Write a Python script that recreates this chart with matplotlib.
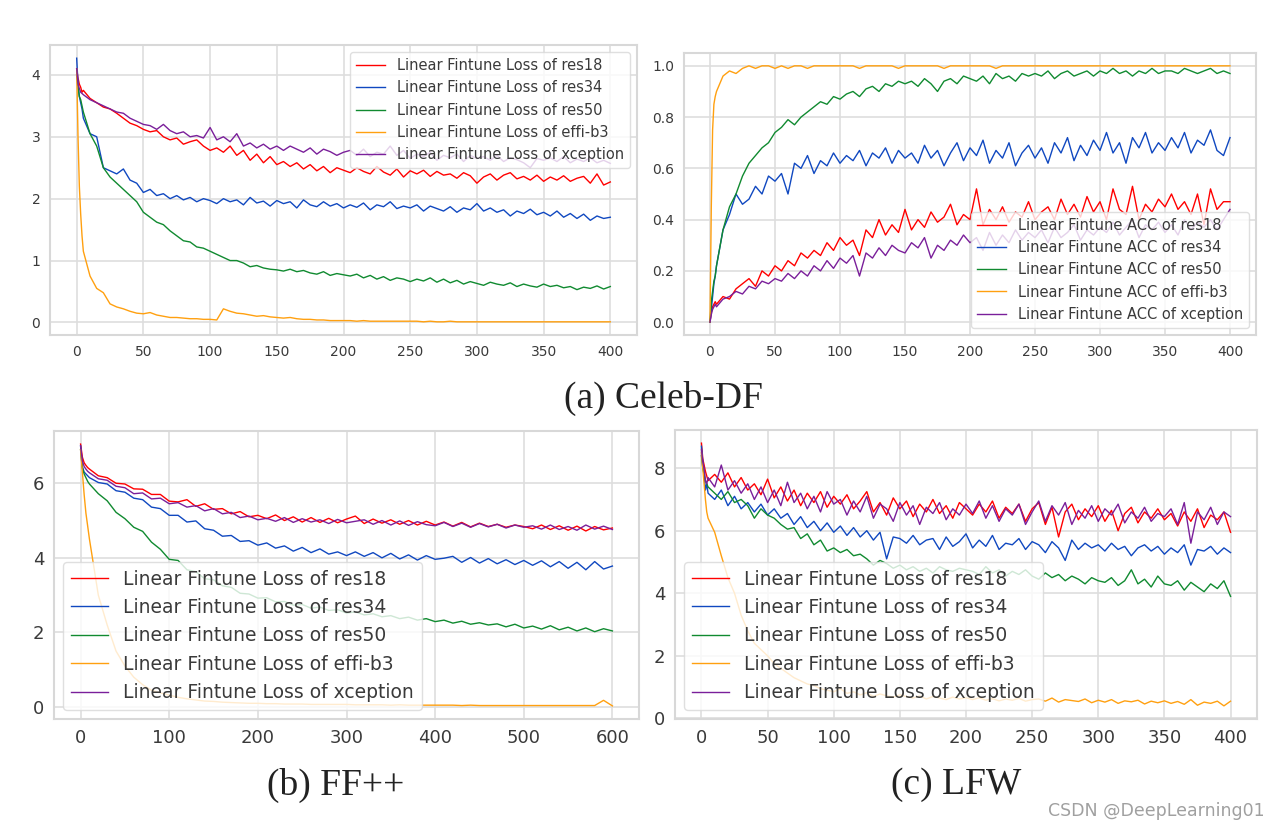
import matplotlib
matplotlib.use("Agg")
import matplotlib.pyplot as plt

# epochs (fine steps at the very start, then every 5 / every 10)
ep400 = [0, 1, 2, 3, 4] + list(range(5, 401, 5))
ep600 = [0, 2, 4, 6, 8] + list(range(10, 601, 10))

names = ["res18", "res34", "res50", "effi-b3", "xception"]
colors = ["#ff0000", "#1048c0", "#108a30", "#ffa010", "#7a1f9a"]

# ---- (a) Celeb-DF loss ----
celeb_loss_res18 = [4.10, 3.95, 3.85, 3.80, 3.72,
    3.75, 3.62, 3.55, 3.48, 3.45, 3.38, 3.30, 3.22, 3.18, 3.12,
    3.08, 3.10, 3.00, 2.95, 2.98, 2.88, 2.92, 2.95, 2.85, 2.78,
    2.82, 2.75, 2.85, 2.70, 2.78, 2.62, 2.72, 2.58, 2.68, 2.55,
    2.60, 2.52, 2.58, 2.48, 2.55, 2.45, 2.52, 2.42, 2.50, 2.46,
    2.42, 2.50, 2.44, 2.40, 2.52, 2.43, 2.38, 2.48, 2.35, 2.45,
    2.40, 2.46, 2.36, 2.44, 2.38, 2.40, 2.33, 2.42, 2.37, 2.25,
    2.35, 2.40, 2.30, 2.38, 2.42, 2.32, 2.36, 2.30, 2.38, 2.28,
    2.35, 2.30, 2.37, 2.28, 2.33, 2.36, 2.25, 2.40, 2.22, 2.27]
celeb_loss_res34 = [4.27, 3.85, 3.65, 3.55, 3.45,
    3.30, 3.05, 3.00, 2.50, 2.45, 2.40, 2.48, 2.30, 2.25, 2.10,
    2.15, 2.05, 2.08, 2.00, 2.05, 1.98, 2.02, 1.95, 2.00, 1.97,
    1.92, 2.00, 1.95, 1.98, 1.90, 2.02, 1.93, 1.96, 1.88, 1.97,
    1.92, 1.95, 1.85, 1.98, 1.90, 1.87, 1.95, 1.88, 1.92, 1.85,
    1.90, 1.86, 1.93, 1.82, 1.90, 1.87, 1.95, 1.84, 1.88, 1.85,
    1.90, 1.80, 1.88, 1.84, 1.80, 1.87, 1.78, 1.85, 1.82, 1.92,
    1.80, 1.85, 1.78, 1.82, 1.72, 1.80, 1.76, 1.83, 1.74, 1.78,
    1.72, 1.80, 1.70, 1.76, 1.68, 1.75, 1.65, 1.72, 1.68, 1.70]
celeb_loss_res50 = [4.00, 3.80, 3.65, 3.60, 3.50,
    3.40, 3.05, 2.85, 2.50, 2.35, 2.25, 2.15, 2.05, 1.95, 1.78,
    1.70, 1.62, 1.58, 1.48, 1.40, 1.32, 1.30, 1.22, 1.20, 1.15,
    1.10, 1.05, 1.00, 1.00, 0.96, 0.90, 0.92, 0.88, 0.86, 0.85,
    0.83, 0.86, 0.82, 0.84, 0.80, 0.78, 0.82, 0.76, 0.79, 0.77,
    0.75, 0.78, 0.72, 0.76, 0.70, 0.74, 0.68, 0.72, 0.70, 0.66,
    0.70, 0.67, 0.72, 0.65, 0.70, 0.64, 0.68, 0.62, 0.66, 0.63,
    0.60, 0.65, 0.62, 0.60, 0.64, 0.58, 0.62, 0.59, 0.57, 0.62,
    0.58, 0.60, 0.56, 0.58, 0.53, 0.57, 0.55, 0.59, 0.54, 0.58]
celeb_loss_effi = [4.10, 3.00, 2.20, 1.75, 1.40,
    1.15, 0.75, 0.55, 0.48, 0.30, 0.25, 0.22, 0.18, 0.15, 0.14,
    0.16, 0.12, 0.10, 0.08, 0.08, 0.07, 0.06, 0.06, 0.05, 0.05,
    0.04, 0.22, 0.18, 0.15, 0.14, 0.12, 0.10, 0.11, 0.09, 0.08,
    0.07, 0.08, 0.06, 0.05, 0.05, 0.04, 0.04, 0.03, 0.03, 0.03,
    0.03, 0.02, 0.03, 0.02, 0.02, 0.02, 0.02, 0.02, 0.02, 0.02,
    0.02, 0.01, 0.02, 0.01, 0.01, 0.02, 0.01, 0.01, 0.01, 0.01,
    0.01, 0.01, 0.01, 0.01, 0.01, 0.01, 0.01, 0.01, 0.01, 0.01,
    0.01, 0.01, 0.01, 0.01, 0.01, 0.01, 0.01, 0.01, 0.01, 0.01]
celeb_loss_xcep = [4.10, 3.85, 3.78, 3.72, 3.70,
    3.68, 3.60, 3.55, 3.50, 3.45, 3.40, 3.38, 3.30, 3.25, 3.20,
    3.18, 3.12, 3.20, 3.10, 3.05, 3.08, 3.00, 3.02, 2.98, 3.15,
    2.95, 3.00, 2.92, 3.05, 2.85, 2.90, 2.82, 2.88, 2.80, 2.85,
    2.78, 2.85, 2.80, 2.75, 2.82, 2.72, 2.80, 2.76, 2.70, 2.75,
    2.78, 2.70, 2.80, 2.68, 2.75, 2.72, 2.85, 2.70, 2.78, 2.65,
    2.72, 2.68, 2.75, 2.62, 2.70, 2.66, 2.72, 2.60, 2.70, 2.65,
    2.68, 2.62, 2.70, 2.60, 2.66, 2.63, 2.58, 2.50, 2.65, 2.62,
    2.66, 2.60, 2.68, 2.58, 2.64, 2.60, 2.66, 2.58, 2.62, 2.57]

# ---- (a) Celeb-DF accuracy ----
celeb_acc_res18 = [0.00, 0.04, 0.06, 0.07, 0.08,
    0.07, 0.10, 0.09, 0.13, 0.15, 0.17, 0.14, 0.20, 0.18, 0.22,
    0.20, 0.24, 0.22, 0.27, 0.25, 0.28, 0.26, 0.31, 0.28, 0.33,
    0.30, 0.32, 0.26, 0.36, 0.33, 0.40, 0.34, 0.38, 0.35, 0.44,
    0.36, 0.40, 0.37, 0.43, 0.39, 0.41, 0.46, 0.38, 0.42, 0.40,
    0.52, 0.38, 0.44, 0.40, 0.45, 0.39, 0.43, 0.41, 0.47, 0.40,
    0.43, 0.45, 0.40, 0.48, 0.42, 0.46, 0.41, 0.49, 0.43, 0.47,
    0.40, 0.52, 0.44, 0.42, 0.53, 0.40, 0.46, 0.43, 0.48, 0.45,
    0.50, 0.44, 0.47, 0.42, 0.50, 0.38, 0.52, 0.44, 0.47, 0.47]
celeb_acc_res34 = [0.00, 0.05, 0.10, 0.15, 0.18,
    0.22, 0.36, 0.42, 0.50, 0.46, 0.48, 0.53, 0.50, 0.57, 0.55,
    0.58, 0.50, 0.62, 0.60, 0.65, 0.58, 0.63, 0.61, 0.66, 0.62,
    0.65, 0.63, 0.67, 0.61, 0.66, 0.64, 0.68, 0.62, 0.67, 0.64,
    0.66, 0.62, 0.69, 0.64, 0.67, 0.61, 0.66, 0.70, 0.63, 0.68,
    0.65, 0.71, 0.62, 0.67, 0.64, 0.70, 0.61, 0.66, 0.69, 0.64,
    0.68, 0.62, 0.70, 0.66, 0.72, 0.63, 0.69, 0.65, 0.71, 0.67,
    0.74, 0.66, 0.70, 0.62, 0.72, 0.68, 0.74, 0.66, 0.70, 0.67,
    0.72, 0.68, 0.74, 0.66, 0.71, 0.69, 0.75, 0.67, 0.65, 0.72]
celeb_acc_res50 = [0.00, 0.08, 0.12, 0.16, 0.18,
    0.22, 0.36, 0.45, 0.50, 0.57, 0.62, 0.65, 0.68, 0.70, 0.74,
    0.76, 0.79, 0.77, 0.80, 0.82, 0.84, 0.86, 0.85, 0.88, 0.87,
    0.89, 0.90, 0.88, 0.91, 0.92, 0.90, 0.93, 0.92, 0.94, 0.93,
    0.94, 0.92, 0.95, 0.93, 0.90, 0.94, 0.95, 0.93, 0.96, 0.95,
    0.94, 0.96, 0.93, 0.97, 0.95, 0.96, 0.94, 0.97, 0.96, 0.97,
    0.96, 0.98, 0.95, 0.97, 0.98, 0.96, 0.97, 0.98, 0.96, 0.98,
    0.97, 0.99, 0.97, 0.98, 0.96, 0.98, 0.97, 0.99, 0.97, 0.98,
    0.98, 0.97, 0.99, 0.98, 0.97, 0.98, 0.99, 0.97, 0.98, 0.97]
celeb_acc_effi = [0.00, 0.45, 0.75, 0.85, 0.88,
    0.90, 0.96, 0.98, 0.97, 0.99, 1.00, 0.99, 1.00, 1.00, 0.99,
    1.00, 0.99, 1.00, 1.00, 0.99, 1.00, 1.00, 1.00, 1.00, 1.00,
    1.00, 1.00, 0.99, 1.00, 1.00, 1.00, 1.00, 1.00, 0.99, 1.00,
    1.00, 1.00, 1.00, 1.00, 1.00, 0.99, 1.00, 1.00, 1.00, 1.00,
    1.00, 1.00, 1.00, 0.99, 1.00, 1.00, 1.00, 1.00, 1.00, 1.00,
    1.00, 1.00, 1.00, 1.00, 1.00, 1.00, 1.00, 1.00, 1.00, 1.00,
    1.00, 1.00, 1.00, 1.00, 1.00, 1.00, 1.00, 1.00, 1.00, 1.00,
    1.00, 1.00, 1.00, 1.00, 1.00, 1.00, 1.00, 1.00, 1.00, 1.00]
celeb_acc_xcep = [0.00, 0.03, 0.05, 0.06, 0.07,
    0.06, 0.09, 0.10, 0.12, 0.11, 0.14, 0.13, 0.16, 0.15, 0.17,
    0.16, 0.19, 0.17, 0.20, 0.18, 0.22, 0.20, 0.24, 0.21, 0.25,
    0.23, 0.26, 0.18, 0.27, 0.25, 0.29, 0.26, 0.30, 0.28, 0.27,
    0.31, 0.29, 0.33, 0.25, 0.30, 0.28, 0.32, 0.30, 0.34, 0.31,
    0.33, 0.28, 0.35, 0.30, 0.34, 0.31, 0.36, 0.32, 0.35, 0.33,
    0.36, 0.31, 0.37, 0.33, 0.35, 0.38, 0.32, 0.36, 0.34, 0.37,
    0.35, 0.39, 0.34, 0.37, 0.40, 0.33, 0.38, 0.36, 0.39, 0.35,
    0.38, 0.34, 0.40, 0.36, 0.39, 0.37, 0.40, 0.36, 0.40, 0.44]

# ---- (b) FF++ loss ----
ff_loss_res18 = [7.05, 6.70, 6.55, 6.48, 6.42,
    6.38, 6.20, 6.15, 6.00, 5.98, 5.85, 5.84, 5.70, 5.70, 5.52,
    5.50, 5.56, 5.38, 5.45, 5.30, 5.32, 5.18, 5.24, 5.10, 5.14,
    5.05, 5.15, 5.00, 5.10, 4.96, 5.08, 4.95, 5.06, 4.94, 5.04,
    5.12, 4.92, 5.04, 4.93, 5.02, 4.90, 5.00, 4.88, 4.98, 4.88,
    4.96, 4.85, 4.95, 4.83, 4.93, 4.84, 4.90, 4.82, 4.88, 4.84,
    4.78, 4.88, 4.76, 4.86, 4.74, 4.85, 4.72, 4.84, 4.75, 4.80]
ff_loss_res34 = [7.00, 6.45, 6.30, 6.25, 6.20,
    6.15, 6.02, 5.98, 5.80, 5.76, 5.60, 5.56, 5.36, 5.32, 5.14,
    5.14, 4.96, 4.99, 4.78, 4.74, 4.58, 4.60, 4.44, 4.46, 4.34,
    4.40, 4.26, 4.32, 4.18, 4.28, 4.14, 4.24, 4.10, 4.16, 4.06,
    4.16, 4.04, 4.14, 4.00, 4.12, 3.97, 4.08, 3.94, 4.06, 3.96,
    3.99, 4.04, 3.88, 4.01, 3.86, 3.98, 3.84, 3.95, 3.82, 3.93,
    3.80, 3.92, 3.76, 3.90, 3.72, 3.88, 3.68, 3.90, 3.70, 3.78]
ff_loss_res50 = [6.90, 6.40, 6.25, 6.15, 6.05,
    5.98, 5.72, 5.53, 5.22, 5.05, 4.82, 4.71, 4.42, 4.23, 3.96,
    3.93, 3.68, 3.63, 3.44, 3.41, 3.25, 3.21, 3.05, 3.03, 2.92,
    2.93, 2.82, 2.83, 2.73, 2.75, 2.65, 2.68, 2.59, 2.61, 2.52,
    2.55, 2.47, 2.50, 2.42, 2.45, 2.37, 2.41, 2.33, 2.37, 2.29,
    2.33, 2.25, 2.30, 2.22, 2.26, 2.20, 2.23, 2.15, 2.22, 2.12,
    2.17, 2.09, 2.18, 2.07, 2.14, 2.04, 2.12, 2.02, 2.10, 2.04]
ff_loss_effi = [6.90, 6.30, 5.70, 5.20, 4.85,
    4.50, 3.00, 2.20, 1.50, 1.10, 0.80, 0.60, 0.45, 0.38, 0.32,
    0.26, 0.22, 0.19, 0.16, 0.15, 0.13, 0.12, 0.11, 0.10, 0.10,
    0.09, 0.09, 0.08, 0.08, 0.08, 0.07, 0.07, 0.07, 0.07, 0.07,
    0.06, 0.06, 0.06, 0.06, 0.05, 0.06, 0.05, 0.05, 0.05, 0.05,
    0.05, 0.05, 0.04, 0.05, 0.04, 0.04, 0.04, 0.04, 0.04, 0.04,
    0.04, 0.04, 0.04, 0.04, 0.04, 0.04, 0.04, 0.04, 0.18, 0.03]
ff_loss_xcep = [7.00, 6.60, 6.45, 6.38, 6.32,
    6.28, 6.12, 6.08, 5.92, 5.88, 5.72, 5.74, 5.58, 5.60, 5.45,
    5.48, 5.36, 5.40, 5.26, 5.32, 5.18, 5.22, 5.08, 5.12, 5.02,
    5.06, 4.98, 5.08, 4.95, 5.05, 4.96, 5.02, 4.92, 5.03, 4.94,
    4.98, 5.02, 4.90, 5.00, 4.88, 4.99, 4.87, 4.97, 4.89, 4.86,
    4.95, 4.84, 4.93, 4.82, 4.92, 4.83, 4.90, 4.80, 4.88, 4.82,
    4.86, 4.77, 4.88, 4.76, 4.84, 4.74, 4.88, 4.77, 4.85, 4.76]

# ---- (c) LFW loss ----
lfw_loss_res18 = [8.80, 8.30, 8.10, 7.90, 7.75,
    7.60, 7.80, 7.55, 7.85, 7.40, 7.70, 7.30, 7.50, 7.15, 7.65,
    7.05, 7.40, 6.95, 7.30, 6.80, 7.20, 6.90, 7.25, 6.75, 7.10,
    6.85, 7.15, 6.70, 6.95, 7.25, 6.60, 6.90, 6.50, 7.05, 6.70,
    6.95, 6.45, 6.85, 6.60, 7.00, 6.55, 6.80, 6.40, 6.90, 6.70,
    6.50, 6.85, 6.60, 6.95, 6.40, 6.75, 6.55, 6.85, 6.30, 6.70,
    6.90, 6.20, 6.75, 5.80, 6.60, 6.85, 6.35, 6.70, 6.45, 6.80,
    6.30, 6.65, 6.00, 6.55, 6.75, 6.25, 6.60, 6.40, 6.70, 6.35,
    6.55, 6.15, 6.60, 6.30, 6.70, 6.10, 6.50, 6.35, 6.60, 5.95]
lfw_loss_res34 = [8.70, 8.20, 7.80, 7.30, 7.50,
    7.20, 7.00, 7.30, 6.80, 7.10, 6.70, 6.90, 6.60, 6.85, 6.50,
    6.70, 6.40, 6.55, 6.20, 6.45, 6.10, 6.30, 6.00, 6.25, 5.95,
    6.15, 5.85, 6.10, 5.80, 6.00, 5.70, 5.95, 5.10, 5.80, 5.75,
    5.60, 5.85, 5.55, 5.70, 5.75, 5.40, 5.80, 5.50, 5.65, 5.90,
    5.45, 5.70, 5.50, 5.85, 5.40, 5.60, 5.55, 5.75, 5.40, 5.65,
    5.55, 5.30, 5.65, 5.45, 5.05, 5.70, 5.40, 5.60, 5.45, 5.55,
    5.35, 5.60, 5.40, 5.50, 5.20, 5.45, 5.55, 5.35, 5.50, 5.25,
    5.45, 5.30, 5.55, 4.90, 5.40, 5.35, 5.50, 5.25, 5.45, 5.30]
lfw_loss_res50 = [8.40, 8.00, 7.80, 7.60, 7.50,
    7.40, 7.20, 7.00, 7.25, 6.90, 7.00, 6.80, 6.40, 6.70, 6.50,
    6.40, 6.20, 6.05, 6.10, 5.75, 5.90, 5.55, 5.70, 5.35, 5.45,
    5.30, 5.40, 5.20, 5.25, 5.10, 4.90, 5.05, 4.95, 4.80, 4.90,
    4.75, 4.85, 4.70, 4.80, 4.65, 4.85, 4.75, 4.70, 4.80, 4.75,
    4.70, 4.60, 4.85, 4.65, 4.75, 4.55, 4.70, 4.60, 4.75, 4.55,
    4.45, 4.65, 4.50, 4.60, 4.40, 4.55, 4.45, 4.30, 4.50, 4.40,
    4.35, 4.50, 4.25, 4.40, 4.75, 4.30, 4.45, 4.20, 4.55, 4.30,
    4.25, 4.40, 4.10, 4.35, 4.20, 4.05, 4.30, 4.15, 4.40, 3.90]
lfw_loss_effi = [8.50, 8.00, 7.50, 7.00, 6.60,
    6.40, 5.95, 5.20, 4.50, 4.00, 3.30, 2.80, 2.40, 2.20, 2.00,
    1.75, 1.60, 1.45, 1.30, 1.20, 1.10, 1.05, 0.95, 0.90, 0.85,
    0.95, 0.80, 0.85, 0.75, 0.82, 0.70, 0.78, 0.72, 0.68, 0.75,
    0.70, 0.65, 0.72, 0.62, 0.70, 0.65, 0.60, 0.68, 0.62, 0.66,
    0.60, 0.66, 0.58, 0.63, 0.56, 0.62, 0.58, 0.64, 0.55, 0.60,
    0.62, 0.55, 0.65, 0.52, 0.60, 0.57, 0.54, 0.62, 0.50, 0.58,
    0.52, 0.60, 0.48, 0.56, 0.53, 0.58, 0.46, 0.55, 0.50, 0.56,
    0.48, 0.54, 0.45, 0.60, 0.42, 0.52, 0.48, 0.55, 0.40, 0.55]
lfw_loss_xcep = [8.60, 8.20, 8.00, 7.60, 7.50,
    7.70, 7.40, 8.10, 7.30, 7.60, 7.20, 7.50, 7.00, 7.40, 6.90,
    7.30, 6.80, 7.55, 6.90, 7.20, 6.70, 7.10, 6.60, 7.25, 6.85,
    7.00, 6.50, 6.95, 6.60, 7.10, 6.40, 6.85, 6.70, 6.30, 6.90,
    6.50, 6.80, 6.20, 6.75, 6.55, 6.90, 6.35, 6.70, 6.50, 6.85,
    6.55, 6.95, 6.40, 6.80, 6.30, 6.70, 6.50, 6.85, 6.20, 6.60,
    6.95, 6.30, 6.80, 6.50, 6.90, 6.20, 6.65, 6.40, 6.80, 6.30,
    6.70, 6.50, 6.85, 6.25, 6.60, 6.40, 6.75, 6.30, 6.55, 6.45,
    6.70, 6.20, 6.90, 5.60, 6.60, 6.35, 6.75, 6.20, 6.60, 6.45]


def style_axes(ax, tick_size):
    ax.set_facecolor("white")
    ax.grid(True, color="#dedede", linewidth=1.2)
    ax.set_axisbelow(True)
    for s in ax.spines.values():
        s.set_color("#d8d8d8")
        s.set_linewidth(1.5)
    ax.tick_params(length=0, labelsize=tick_size, labelcolor="#3a3a3a", pad=7)


def draw(ax, x, series, kind, loc, leg_size, tick_size):
    for ys, name, c in zip(series, names, colors):
        ax.plot(x, ys, color=c, linewidth=1.0,
                label="Linear Fintune %s of %s" % (kind, name))
    style_axes(ax, tick_size)
    leg = ax.legend(loc=loc, fontsize=leg_size, framealpha=0.8,
                    edgecolor="#d8d8d8", fancybox=True)
    for t in leg.get_texts():
        t.set_color("#3a3a3a")


W, H = 1282, 830
fig = plt.figure(figsize=(W / 100, H / 100), dpi=100)


def px_axes(left, top, right, bottom):
    return fig.add_axes([left / W, 1 - bottom / H, (right - left) / W, (bottom - top) / H])


ax1 = px_axes(50, 45, 637, 335)
draw(ax1, ep400, [celeb_loss_res18, celeb_loss_res34, celeb_loss_res50,
                  celeb_loss_effi, celeb_loss_xcep], "Loss", "upper right", 10.5, 10)
ax1.set_xticks(range(0, 401, 50))
ax1.set_yticks([0, 1, 2, 3, 4])

ax2 = px_axes(684, 53, 1256, 335)
draw(ax2, ep400, [celeb_acc_res18, celeb_acc_res34, celeb_acc_res50,
                  celeb_acc_effi, celeb_acc_xcep], "ACC", "lower right", 10.5, 10)
ax2.set_xticks(range(0, 401, 50))
ax2.set_yticks([0.0, 0.2, 0.4, 0.6, 0.8, 1.0])
ax2.set_yticklabels(["0.0", "0.2", "0.4", "0.6", "0.8", "1.0"])

ax3 = px_axes(54, 431, 639, 719)
draw(ax3, ep600, [ff_loss_res18, ff_loss_res34, ff_loss_res50,
                  ff_loss_effi, ff_loss_xcep], "Loss", "lower left", 13.5, 13)
ax3.set_xticks(range(0, 601, 100))
ax3.set_yticks([0, 2, 4, 6])

ax4 = px_axes(675, 430, 1257, 719)
draw(ax4, ep400, [lfw_loss_res18, lfw_loss_res34, lfw_loss_res50,
                  lfw_loss_effi, lfw_loss_xcep], "Loss", "lower left", 13.5, 13)
ax4.set_xticks(range(0, 401, 50))
ax4.set_yticks([0, 2, 4, 6, 8])

serif = ["Liberation Serif", "DejaVu Serif"]
fig.text(663 / W, 1 - 398 / H, "(a) Celeb-DF", family=serif, fontsize=27,
         ha="center", va="center", color="#222222")
fig.text(336 / W, 1 - 785 / H, "(b) FF++", family=serif, fontsize=27,
         ha="center", va="center", color="#222222")
fig.text(956 / W, 1 - 785 / H, "(c) LFW", family=serif, fontsize=27,
         ha="center", va="center", color="#222222")
fig.text(1265 / W, 1 - 811 / H, "CSDN @DeepLearning01", fontsize=12.5,
         ha="right", va="center", color="#a0a0a0")

fig.savefig("out.png", dpi=100, facecolor="white")
